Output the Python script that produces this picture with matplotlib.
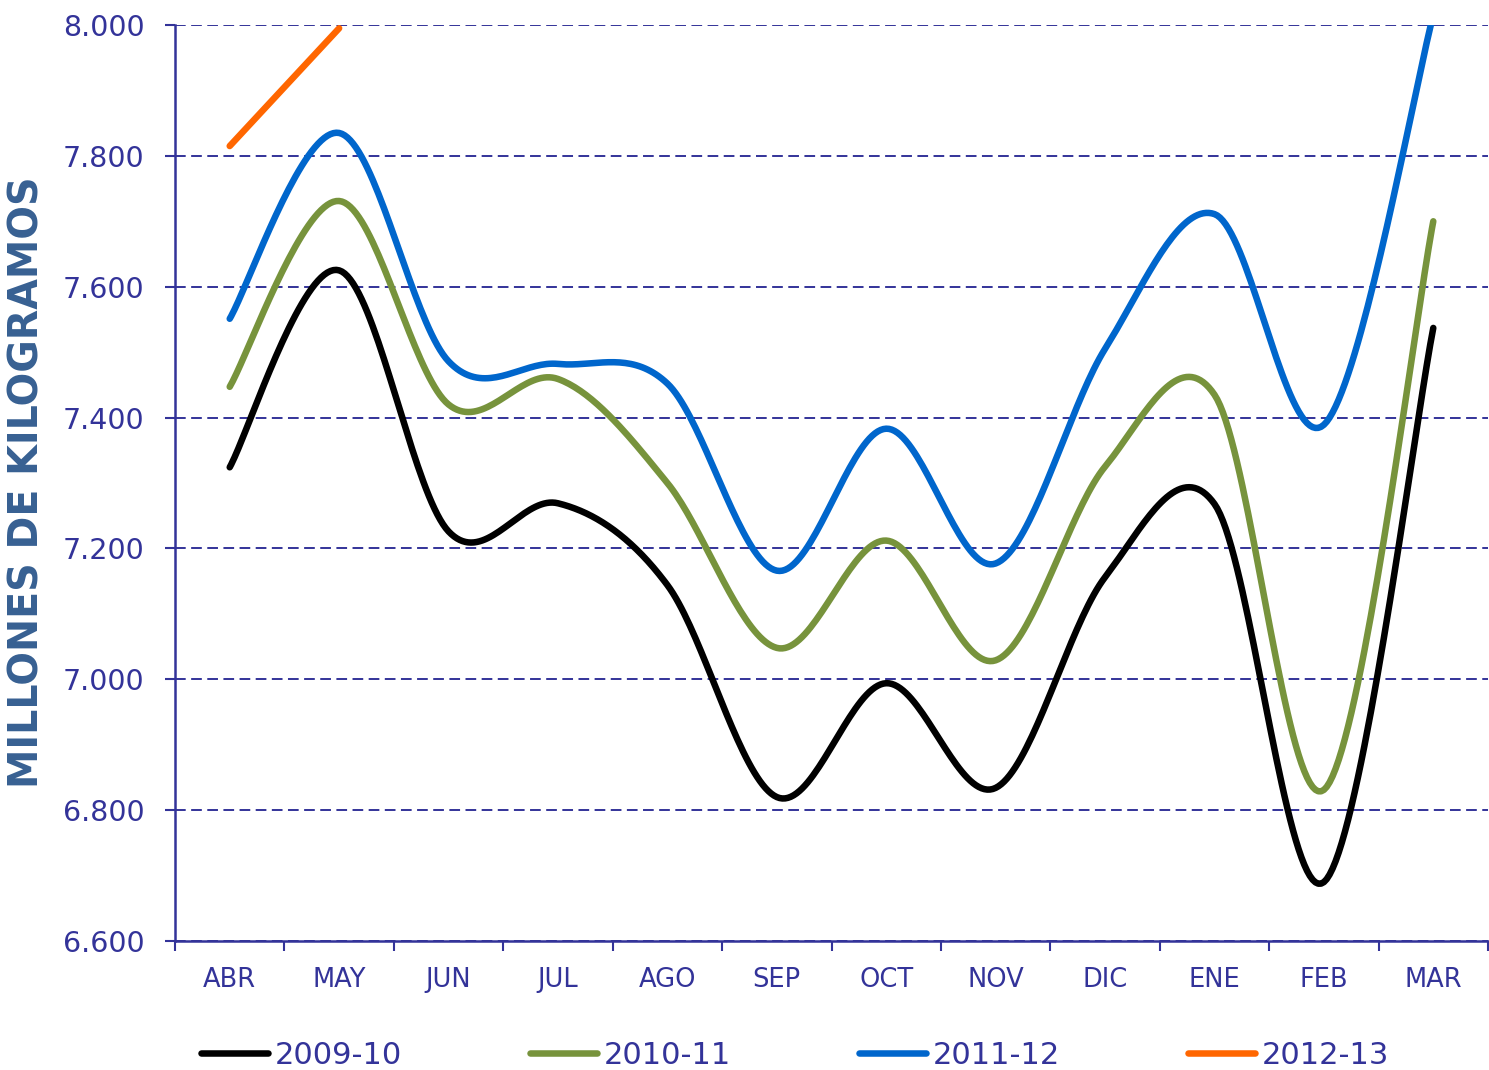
import numpy as np
import matplotlib
matplotlib.use("Agg")
import matplotlib.pyplot as plt
from matplotlib.ticker import FixedLocator, FuncFormatter, NullFormatter

months = ["ABR", "MAY", "JUN", "JUL", "AGO", "SEP", "OCT", "NOV", "DIC", "ENE", "FEB", "MAR"]
s2009_10 = [7324, 7625, 7226, 7269, 7144, 6820, 6994, 6834, 7156, 7268, 6690, 7537]
s2010_11 = [7447, 7731, 7420, 7459, 7300, 7048, 7212, 7029, 7325, 7435, 6831, 7700]
s2011_12 = [7551, 7835, 7486, 7482, 7452, 7166, 7383, 7177, 7505, 7711, 7389, 8015]
s2012_13 = [7815, 7995]
series_names = ["2009-10", "2010-11", "2011-12", "2012-13"]
series_colors = ["#000000", "#77933C", "#0066CC", "#FF6600"]
y_ticks = [6600, 6800, 7000, 7200, 7400, 7600, 7800, 8000]

AX_COLOR = "#333399"


def smooth(xs, ys, n=40):
    """Excel-like smoothed line (Catmull-Rom via cubic Bezier)."""
    xs = np.asarray(xs, float)
    ys = np.asarray(ys, float)
    pts = np.column_stack([xs, ys])
    if len(pts) < 3:
        return xs, ys
    out = []
    for i in range(len(pts) - 1):
        p0 = pts[i - 1] if i > 0 else pts[i]
        p1 = pts[i]
        p2 = pts[i + 1]
        p3 = pts[i + 2] if i + 2 < len(pts) else pts[i + 1]
        c1 = p1 + (p2 - p0) / 6.0
        c2 = p2 - (p3 - p1) / 6.0
        t = np.linspace(0, 1, n)[:, None]
        seg = ((1 - t) ** 3) * p1 + 3 * ((1 - t) ** 2) * t * c1 + 3 * (1 - t) * t ** 2 * c2 + t ** 3 * p2
        if i > 0:
            seg = seg[1:]
        out.append(seg)
    out = np.vstack(out)
    return out[:, 0], out[:, 1]


fig = plt.figure(figsize=(14.89, 10.70), dpi=100)
ax = fig.add_axes([175 / 1489, 1 - 941 / 1070, (1488 - 175) / 1489, (941 - 25) / 1070])

all_series = [s2009_10, s2010_11, s2011_12, s2012_13]
handles = []
for name, vals, col in zip(series_names, all_series, series_colors):
    x = np.arange(len(vals))
    sx, sy = smooth(x, vals)
    ln, = ax.plot(sx, sy, color=col, lw=4.7, solid_capstyle="round", solid_joinstyle="round",
                  label=name, zorder=3)
    handles.append(ln)

ax.set_xlim(-0.5, len(months) - 0.5)
ax.set_ylim(6600, 8000)

# y axis
ax.set_yticks(y_ticks)
ax.yaxis.set_major_formatter(FuncFormatter(lambda v, p: f"{v:,.0f}".replace(",", ".")))
ax.tick_params(axis="y", direction="out", length=7, width=1.5, color=AX_COLOR,
               labelcolor=AX_COLOR, labelsize=20.5, pad=15)
ax.grid(axis="y", color=AX_COLOR, lw=1.4, ls=(0, (5.5, 2.8)), zorder=1)

# x axis: ticks at boundaries, labels at centres
ax.xaxis.set_major_locator(FixedLocator(np.arange(-0.5, len(months), 1.0)))
ax.xaxis.set_major_formatter(NullFormatter())
ax.xaxis.set_minor_locator(FixedLocator(np.arange(len(months))))
ax.set_xticklabels(months, minor=True)
ax.tick_params(axis="x", which="major", direction="out", length=7, width=1.5, color=AX_COLOR)
ax.tick_params(axis="x", which="minor", length=0, labelcolor=AX_COLOR, labelsize=18.5, pad=18.5)

for s in ["top", "right"]:
    ax.spines[s].set_visible(False)
for s in ["left", "bottom"]:
    ax.spines[s].set_color(AX_COLOR)
    ax.spines[s].set_linewidth(1.8)
    ax.spines[s].set_zorder(4)

fig.text(28 / 1489, 1 - 482 / 1070, "MILLONES DE KILOGRAMOS", rotation=90, ha="center", va="center",
         fontsize=28.5, fontweight="bold", color="#376092")

fig.legend(handles=handles, loc="center", bbox_to_anchor=(795 / 1489, 1 - 1055 / 1070), ncol=4,
           frameon=False, fontsize=22, handlelength=2.2, handletextpad=0.2, columnspacing=4.2,
           labelcolor=AX_COLOR, borderpad=0, borderaxespad=0)

fig.savefig("out.png", dpi=100)
